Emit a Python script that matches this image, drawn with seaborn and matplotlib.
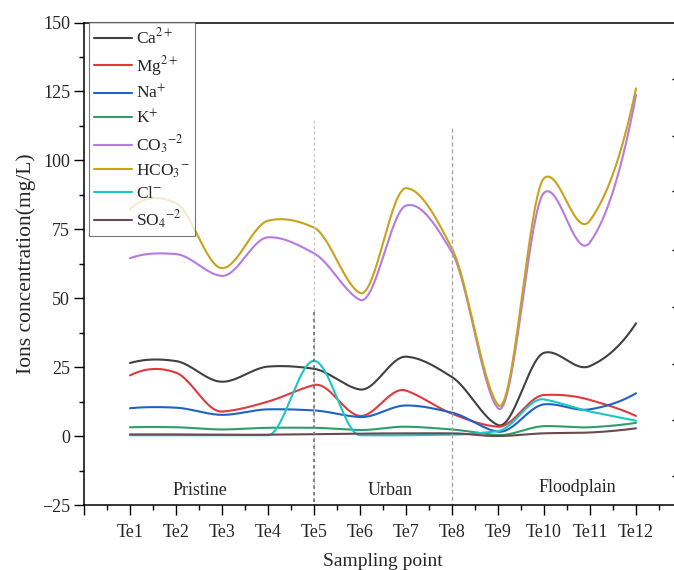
import numpy as np
import pandas as pd
import matplotlib
matplotlib.use("Agg")
import matplotlib.pyplot as plt
import seaborn as sns

# ---------------- data ----------------
points = ["Te1", "Te2", "Te3", "Te4", "Te5", "Te6", "Te7", "Te8", "Te9", "Te10", "Te11", "Te12"]
ca   = [26.5, 27.2, 19.7, 25.2, 24.4, 16.9, 28.8, 21.4, 4.0, 30.2, 25.4, 40.9]
mg   = [22.0, 23.0, 8.9, 12.5, 18.5, 7.3, 16.5, 8.1, 3.4, 14.9, 13.1, 7.3]
na   = [10.1, 10.3, 7.7, 9.7, 9.3, 6.9, 11.1, 8.5, 1.6, 11.5, 9.7, 15.5]
k    = [3.2, 3.2, 2.4, 3.0, 3.0, 2.2, 3.4, 2.4, 0.4, 3.6, 3.2, 4.8]
co3  = [64.5, 66.0, 58.1, 72.1, 66.3, 49.4, 83.6, 66.6, 10.1, 88.2, 70.3, 123.7]
hco3 = [82.4, 84.5, 60.9, 78.1, 75.6, 51.9, 89.9, 68.0, 11.3, 93.5, 78.2, 126.1]
cl   = [0.3, 0.3, 0.3, 0.3, 27.3, 0.3, 0.3, 0.5, 1.8, 13.3, 8.9, 5.6]
so4  = [0.6, 0.6, 0.5, 0.5, 0.7, 0.9, 1.0, 1.0, 0.0, 1.0, 1.3, 2.8]

series_labels = [r"Ca$^{2+}$", r"Mg$^{2+}$", r"Na$^{+}$", r"K$^{+}$",
                 r"CO$_3$$^{-2}$", r"HCO$_3$$^{-}$", r"Cl$^{-}$", r"SO$_4$$^{-2}$"]
series_values = [ca, mg, na, k, co3, hco3, cl, so4]
colors = ["#404040", "#e0393e", "#1f63c6", "#2e9e6b", "#b57be0", "#c9a21b", "#1bc7c4", "#6b4a4f"]

zones = ["Pristine", "Urban", "Floodplain"]
right_ticks = [129.5, 108.8, 88.9, 67.5, 46.8, 26.1, 5.8, -14.5]


def akima(x, y, xs):
    """Akima spline through the points (drawing helper only)."""
    x = np.asarray(x, float)
    y = np.asarray(y, float)
    n = len(x)
    m = np.diff(y) / np.diff(x)
    mm = np.zeros(n + 3)
    mm[2:n + 1] = m
    mm[1] = 2 * mm[2] - mm[3]
    mm[0] = 2 * mm[1] - mm[2]
    mm[n + 1] = 2 * mm[n] - mm[n - 1]
    mm[n + 2] = 2 * mm[n + 1] - mm[n]
    t = np.zeros(n)
    for i in range(n):
        w1 = abs(mm[i + 3] - mm[i + 2])
        w2 = abs(mm[i + 1] - mm[i])
        if w1 + w2 < 1e-12:
            t[i] = 0.5 * (mm[i + 1] + mm[i + 2])
        else:
            t[i] = (w1 * mm[i + 1] + w2 * mm[i + 2]) / (w1 + w2)
    idx = np.clip(np.searchsorted(x, xs) - 1, 0, n - 2)
    h = x[idx + 1] - x[idx]
    s = (xs - x[idx]) / h
    h00 = 2 * s ** 3 - 3 * s ** 2 + 1
    h10 = s ** 3 - 2 * s ** 2 + s
    h01 = -2 * s ** 3 + 3 * s ** 2
    h11 = s ** 3 - s ** 2
    return h00 * y[idx] + h10 * h * t[idx] + h01 * y[idx + 1] + h11 * h * t[idx + 1]


xpos = np.arange(1, len(points) + 1)
xs = np.linspace(1, len(points), 600)
frames = []
for lab, vals in zip(series_labels, series_values):
    frames.append(pd.DataFrame({"x": xs, "y": akima(xpos, vals, xs), "ion": lab}))
df = pd.concat(frames, ignore_index=True)

# ---------------- style ----------------
sns.set_theme(style="ticks")
plt.rcParams["font.family"] = ["Liberation Serif", "DejaVu Serif"]
plt.rcParams["mathtext.fontset"] = "stix"
plt.rcParams["axes.unicode_minus"] = True

fig = plt.figure(figsize=(6.74, 5.70), dpi=100)
ax = fig.add_axes([84 / 674, 1 - 505 / 570, 598 / 674, (505 - 22.5) / 570])

sns.lineplot(data=df, x="x", y="y", hue="ion", hue_order=series_labels,
             palette=colors, linewidth=1.5, ax=ax, sort=False, estimator=None)

ax.set_xlim(0, 13)
ax.set_ylim(-25, 150)

# vertical separators
ax.plot([5, 5], [114.7, -25], color="#c8c8c8", lw=1.0, ls=(0, (2, 2)))
ax.plot([5, 5], [45, -25], color="#707070", lw=1.2, ls=(0, (2, 2)))
ax.plot([8, 8], [111.8, -25], color="#a8a8a8", lw=1.0, ls=(0, (3, 2)))

# zone labels
ax.text(2.52, -19.9, zones[0], fontsize=13, ha="center", va="center")
ax.text(6.65, -19.9, zones[1], fontsize=13, ha="center", va="center")
ax.text(10.72, -18.5, zones[2], fontsize=13, ha="center", va="center")

# ticks
ax.set_xticks(np.arange(0, 14))
ax.set_xticklabels([""] + points + [""])
ax.set_xticks(np.arange(0.5, 13, 1), minor=True)
ax.set_yticks(np.arange(-25, 151, 25))
ax.set_yticks(np.arange(-12.5, 150, 25), minor=True)
ax.tick_params(axis="both", which="major", direction="out", length=7, width=1.0,
               labelsize=13, color="black", pad=3)
ax.tick_params(axis="both", which="minor", direction="out", length=3.5, width=1.0, color="black")
ax.tick_params(axis="x", pad=7)

for s in ["left", "bottom", "top", "right"]:
    ax.spines[s].set_color("black")
    ax.spines[s].set_linewidth(1.1)

ax.set_xlabel("Sampling point", fontsize=14, labelpad=8)
ax.set_ylabel("Ions concentration(mg/L)", fontsize=15.5, labelpad=4)

# right-side inward ticks (spine itself falls just outside the picture)
ax2 = ax.twinx()
ax2.set_ylim(-25, 150)
ax2.set_yticks(right_ticks)
ax2.tick_params(axis="y", direction="in", length=7, width=1.0, labelright=False, color="black")
for s in ["left", "bottom", "top"]:
    ax2.spines[s].set_visible(False)

leg = ax.legend(loc="upper left", bbox_to_anchor=(5 / 598, 1.0), borderaxespad=0,
                frameon=True, fancybox=False, edgecolor="#555555", fontsize=12.5,
                handlelength=2.15, handletextpad=0.25, labelspacing=0.36, borderpad=0.3,
                title=None)
leg.get_frame().set_linewidth(0.8)
for line in leg.get_lines():
    line.set_linewidth(1.5)

fig.savefig("out.png", dpi=100)
